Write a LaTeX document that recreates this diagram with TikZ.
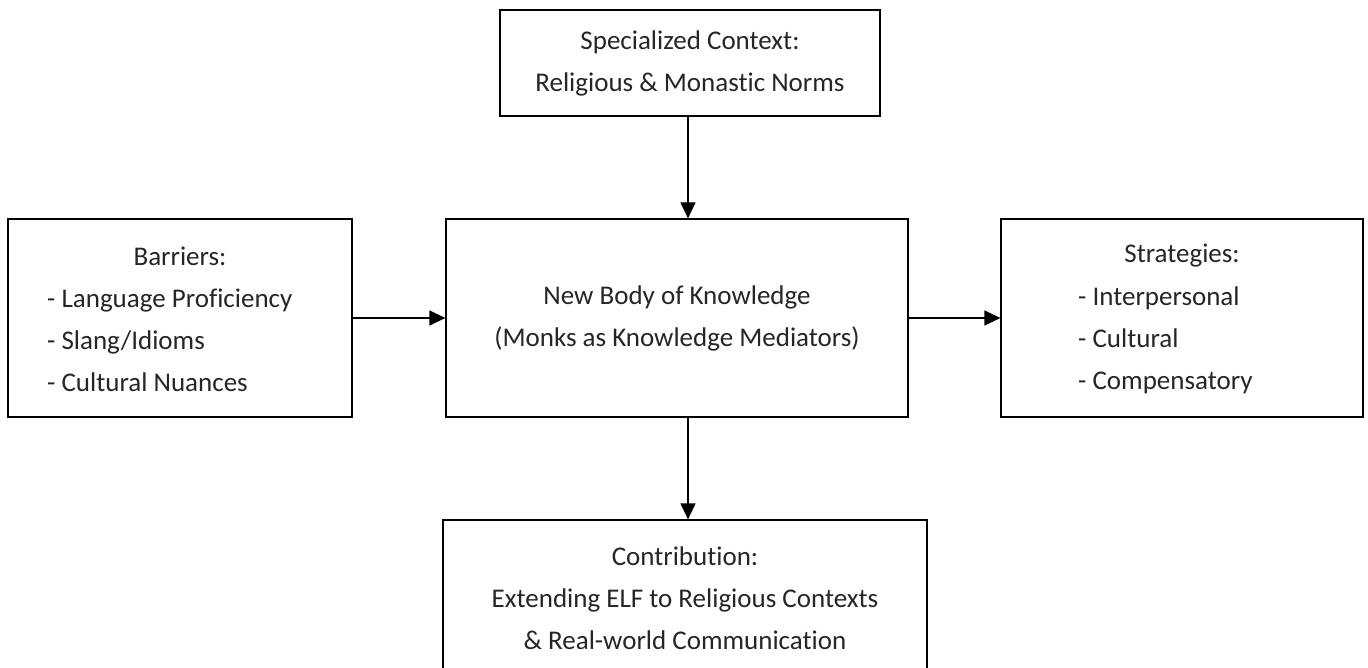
\documentclass[tikz,border=0pt]{standalone}
\usepackage{fontspec}
\setmainfont{Carlito}[Ligatures=NoCommon]
\usetikzlibrary{arrows.meta}
\begin{document}
\begin{tikzpicture}[x=1pt,y=-1pt,
  box/.style={draw, line width=1.2pt, inner sep=0pt},
  txt/.style={font=\fontsize{27}{42}\selectfont, inner sep=0pt, text=black!85},
  arr/.style={-{Triangle[length=16pt,width=15pt]}, line width=1.2pt}]
\useasboundingbox (0,0) rectangle (1368,668);
\clip (0,0) rectangle (1368,668);
\fill[white] (0,0) rectangle (1368,668);
\node[box, minimum width=380pt, minimum height=106pt] (ctx) at (690,63) {};
\node[box, minimum width=462pt, minimum height=198pt] (mid) at (677,318) {};
\node[box, minimum width=344pt, minimum height=198pt] (bar) at (180,318) {};
\node[box, minimum width=362pt, minimum height=198pt] (str) at (1182,318) {};
\node[box, minimum width=484pt, minimum height=200pt] (con) at (685,620) {};
\coordinate (ax) at (688,0);
% texts
\node[txt, align=center] (ctxt) at (ctx.center) {Specialized Context:\\Religious \& Monastic Norms};
\node[txt, align=center] (midt) at (mid.center) {New Body of Knowledge\\(Monks as Knowledge Mediators)};
\node[txt] (barh) at (180,256) {Barriers:};
\node[txt, align=left, anchor=west] (barl) at (47,340) {- Language Proficiency\\- Slang/Idioms\\- Cultural Nuances};
\node[txt] (strh) at (1182,256) {Strategies:};
\node[txt, align=left, anchor=west] (strl) at (1078,340) {- Interpersonal\\- Cultural\\- Compensatory};
\node[txt, align=center] (cont) at (685,598) {Contribution:\\Extending ELF to Religious Contexts\\\& Real-world Communication};
% arrows
\draw[arr] (ctx.south -| ax) -- (mid.north -| ax);
\draw[arr] (mid.south -| ax) -- (con.north -| ax);
\draw[arr] (bar.east) -- (mid.west);
\draw[arr] (mid.east) -- (str.west);
\end{tikzpicture}
\end{document}
